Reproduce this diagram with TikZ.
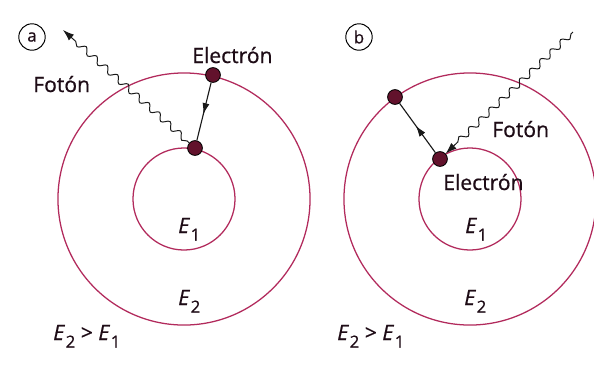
\documentclass[tikz,border=0pt]{standalone}
\usepackage{fontspec}
\setmainfont{Open Sans}[RawFeature={embolden=0.7}]
\usetikzlibrary{arrows.meta,decorations.pathmorphing,decorations.markings}

\definecolor{orbitred}{RGB}{178,42,92}
\definecolor{elecfill}{RGB}{98,18,44}
\definecolor{txtdark}{RGB}{30,12,22}

\newcommand{\Enivel}[1]{\textit{E}\kern0.5pt\raisebox{-5.5pt}{\fontsize{12}{12}\selectfont #1}}

\begin{document}
\begin{tikzpicture}[x=0.025cm, y=-0.025cm,
    orbita/.style={draw=orbitred, line width=0.9pt},
    electron/.style={circle, draw=black, fill=elecfill, line width=0.6pt,
                     minimum size=0.37cm, inner sep=0pt},
    salto/.style={draw=black!90, line width=0.8pt, postaction={decorate},
                  decoration={markings, mark=at position 0.55 with
                  {\arrow{Latex[length=8pt,width=5pt]}}}},
    foton/.style={draw=black!90, line width=0.7pt, -{Latex[length=8pt,width=5.5pt]},
                  decorate, decoration={snake, segment length=10pt, amplitude=2.2pt,
                  pre length=2pt, post length=9pt}},
    etiq/.style={anchor=base west, inner sep=0pt, text=txtdark,
                 font=\fontsize{15}{18}\selectfont},
    marca/.style={circle, draw, line width=0.7pt, minimum size=0.66cm, inner sep=0pt,
                  text=txtdark, font=\fontsize{12}{13}\selectfont}
]
    \useasboundingbox[fill=white] (0,0) rectangle (594,364);

    % (a) emission
    \coordinate (cA) at (184,199);
    \draw[orbita] (cA) circle (3.15cm);
    \draw[orbita] (cA) circle (1.275cm);
    \node[marca] (tagA) at (32,37) {a};
    \node[electron] (eA2) at (213,75) {};
    \node[electron] (eA1) at (195,148) {};
    \coordinate (phA) at (63,30);
    \draw[salto] (eA2) -- (eA1);
    \draw[foton] (eA1) -- (phA);
    \node[etiq] (elA) at (192,63) {Electrón};
    \node[etiq] (foA) at (33,92) {Fotón};
    \node[etiq] (E1A) at (178,233) {\Enivel{1}};
    \node[etiq] (E2A) at (178,305) {\Enivel{2}};
    \node[etiq] (cmpA) at (53,340) {\Enivel{2} > \Enivel{1}};

    % (b) absorption
    \coordinate (cB) at (470,199);
    \draw[orbita] (cB) circle (3.15cm);
    \draw[orbita] (cB) circle (1.275cm);
    \node[marca] (tagB) at (359,37) {b};
    \node[electron] (eB2) at (395,97) {};
    \node[electron] (eB1) at (440,159) {};
    \coordinate (phB) at (573,32);
    \draw[salto] (eB1) -- (eB2);
    \draw[foton] (phB) -- (eB1);
    \node[etiq] (foB) at (492,137) {Fotón};
    \node[etiq] (elB) at (443,190) {Electrón};
    \node[etiq] (E1B) at (465,233) {\Enivel{1}};
    \node[etiq] (E2B) at (464,305) {\Enivel{2}};
    \node[etiq] (cmpB) at (337,340) {\Enivel{2} > \Enivel{1}};
\end{tikzpicture}
\end{document}
